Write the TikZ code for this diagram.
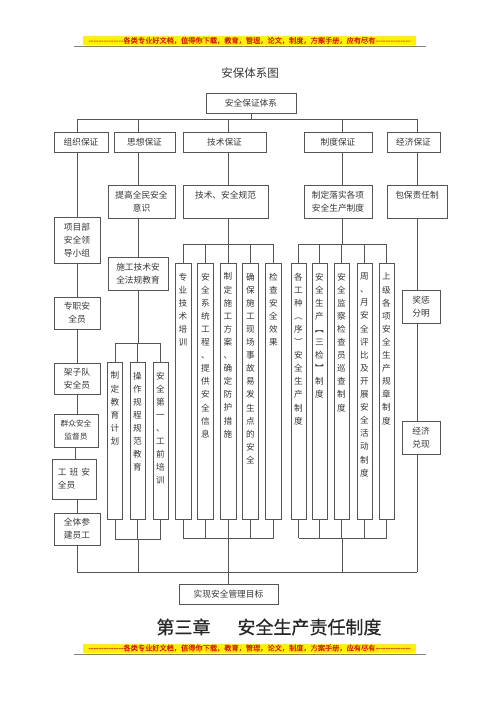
\documentclass[tikz,border=0pt]{standalone}
\usepackage{fontspec}
\setmainfont{Noto Sans CJK SC}
\newfontfamily\hei[FakeBold=0.5]{Noto Sans CJK SC}
\newfontfamily\bannerfont[FakeBold=0.3]{Noto Sans CJK SC}
\makeatletter
\newcommand\vtxt[1]{\vbox{\baselineskip=13.1pt\lineskiplimit=-20pt\@tfor\vtch:=#1\do{\hbox to 10pt{\hss\vtch\hss\vrule height 0.8em depth 0.2em width 0pt}}}}
\makeatother
\newcommand\dsh{-{}-{}-{}-{}-{}-{}-{}-{}-{}-{}-{}-{}-{}-{}}
\definecolor{lncol}{RGB}{85,85,85}
\definecolor{txcol}{RGB}{55,55,55}
\tikzset{
  ln/.style={draw=lncol, line width=0.8pt},
  bx/.style={draw=lncol, line width=0.8pt, inner sep=0pt, text=txcol, font=\fontsize{8.7}{13}\selectfont, align=center},
  vt/.style={inner sep=0pt, text=txcol, font=\fontsize{8.6}{13}\selectfont},
  txt/.style={inner sep=0pt, text=txcol, font=\fontsize{8.7}{13}\selectfont},
  banner/.style={fill=yellow, inner sep=0pt, minimum width=333pt, minimum height=9pt, text={rgb,255:red,220;green,20;blue,0}, font=\bannerfont\fontsize{7.2}{8}\selectfont},
}
\newcommand\Bx[7][]{\node[bx,minimum width={(#5-#3)*1pt},minimum height={(#6-#4)*1pt},#1] (#2) at ({(#3+#5)/2},{(#4+#6)/2}) {#7};}
\newcommand\Col[6]{\node[bx,minimum width=#3pt,minimum height={(#5-#4)*1pt}] (#1) at (#2,{(#4+#5)/2}) {};
  \node[vt,anchor=north] (#1t) at ([yshift=-10pt]#1.north) {\vtxt{#6}};}
\begin{document}
\begin{tikzpicture}[x=1pt,y=-1pt]
\useasboundingbox (0,0) rectangle (500,707);
\fill[white] (0,0) rectangle (500,707);
% banners
\node[banner] (bannerT) at (249.5,40.5) {\dsh 各类专业好文档，值得你下载，教育，管理，论文，制度，方案手册，应有尽有\dsh};
\draw[draw=gray, line width=0.8pt] (74,46.5) -- (426,46.5);
\node[banner] (bannerB) at (249.5,648) {\dsh 各类专业好文档，值得你下载，教育，管理，论文，制度，方案手册，应有尽有\dsh};
\draw[draw=gray, line width=0.8pt] (74,654) -- (426,654);
% title
\node[inner sep=0pt, text=txcol, font=\fontsize{11.5}{13}\selectfont] (title) at (250,73) {安保体系图};
% top
\Bx{top}{206}{93}{296}{113}{安全保证体系}
% level 2
\Bx{l2a}{54}{132}{108}{152}{组织保证}
\Bx{l2b}{114}{132}{175}{152}{思想保证}
\Bx{l2c}{183}{132}{266}{152}{技术保证}
\Bx{l2d}{304}{132}{372}{152}{制度保证}
\Bx{l2e}{387}{132}{440}{152}{经济保证}
% level 3
\Bx{l3b}{108}{185}{175}{218}{提高全民安全\\意识}
\Bx{l3c}{183}{185}{268}{218}{}
\Bx{l3d}{304}{185}{372}{218}{制定落实各项\\安全生产制度}
\Bx{l3e}{387}{185}{447}{218}{}
\coordinate (y195) at (0,195);
\node[txt] (l3ct) at (l3c.north |- y195) {技术、安全规范};
\node[txt] (l3et) at (l3e.north |- y195) {包保责任制};
% left chain
\Bx{n1}{54}{217}{100}{263}{项目部\\安全领\\导小组}
\Bx{n2}{54}{297}{100}{329}{专职安\\全员}
\Bx{n3}{54}{363}{100}{394}{架子队\\安全员}
\Bx[font=\fontsize{7.7}{13}\selectfont]{n4}{54}{414}{98}{447}{群众安全\\监督员}
\Bx[align=left]{n5}{52}{459}{96}{499}{工\hspace{3pt}班\hspace{3pt}安\\全员}
\Bx{n6}{54}{513}{100}{545}{全体参\\建员工}
% thought column
\Bx{sf}{108}{257}{168}{290}{施工技术安\\全法规教育}
\Col{c1}{115}{15}{362}{519}{制定教育计划}
\Col{c2}{137.5}{15}{362}{519}{操作规程规范教育}
\Col{c3}{160.5}{15}{362}{519}{安全第一、工前培训}
% technical columns
\Col{t1}{183}{16}{263}{519}{专业技术培训}
\Col{t2}{205.5}{16}{263}{519}{安全系统工程、提供安全信息}
\Col{t3}{228}{16}{263}{519}{制定施工方案、确定防护措施}
\Col{t4}{250.5}{16}{263}{519}{确保施工现场事故易发生点的安全}
\Col{t5}{273.5}{16}{263}{519}{检查安全效果}
% institutional columns
\Col{z1}{298.5}{15}{263}{519}{各工种︵序︶安全生产制度}
\Col{z2}{319.5}{15}{263}{519}{安全生产︻三检︼制度}
\Col{z3}{341.5}{15}{263}{519}{安全监察检查员巡查制度}
\Col{z4}{364.5}{15}{263}{519}{周、月安全评比及开展安全活动制度}
\Col{z5}{386.5}{15}{263}{519}{上级各项安全生产规章制度}
% economic
\Bx{e1}{402}{290}{440}{323}{奖惩\\分明}
\Bx{e2}{402}{421}{440}{454}{经济\\兑现}
% goal
\Bx{goal}{179}{584}{278}{604}{实现安全管理目标}
% heading
\node[inner sep=0pt, text=black!85, font=\hei\fontsize{18}{20}\selectfont] (chap) at (269,627) {第三章\hspace{27pt}安全生产责任制度};
% coordinates
\coordinate (xA) at (77,0);
\coordinate (xA2) at (75,0);
\coordinate (xB) at (138,0);
\coordinate (xT) at (228,0);
\coordinate (xZ) at (342,0);
\coordinate (xE) at (417,0);
\coordinate (busT) at (0,119);
\coordinate (busS1) at (0,343);
\coordinate (busS2) at (0,539);
\coordinate (busK1) at (0,244);
\coordinate (busK2) at (0,538);
\coordinate (busB) at (0,572);
% top connectors
\draw[ln] (top.south) -- (top.south |- busT);
\draw[ln] (xA |- busT) -- (xE |- busT);
\foreach \n/\c in {l2a/xA,l2b/xB,l2c/xT,l2d/xZ,l2e/xE} \draw[ln] (\c |- busT) -- (\n.north -| \c);
% left chain
\draw[ln] (l2a.south -| xA) -- (n1.north -| xA);
\draw[ln] (n1.south -| xA) -- (n2.north -| xA);
\draw[ln] (n2.south -| xA) -- (n3.north -| xA);
\draw[ln] (n3.south -| xA) -- (n4.north -| xA);
\draw[ln] (n4.south -| xA2) -- (n5.north -| xA2);
\draw[ln] (n5.south -| xA) -- (n6.north -| xA);
\draw[ln] (n6.south -| xA) -- (xA |- busB) -- (xE |- busB);
% thought
\draw[ln] (l2b.south -| xB) -- (l3b.north -| xB);
\draw[ln] (l3b.south -| xB) -- (sf.north -| xB);
\draw[ln] (sf.south -| xB) -- (xB |- busS1);
\draw[ln] (c1.north |- busS1) -- (c3.north |- busS1);
\draw[ln] (c1.south |- busS2) -- (c3.south |- busS2);
\foreach \n in {c1,c2,c3} {\draw[ln] (\n.north |- busS1) -- (\n.north); \draw[ln] (\n.south) -- (\n.south |- busS2);}
\draw[ln] (xB |- busS2) -- (xB |- busB);
% technical
\draw[ln] (l2c.south -| xT) -- (l3c.north -| xT);
\draw[ln] (l3c.south -| xT) -- (xT |- busK1);
\draw[ln] (t1.north |- busK1) -- (t5.north |- busK1);
\draw[ln] (t1.south |- busK2) -- (t5.south |- busK2);
\foreach \n in {t1,t2,t3,t4,t5} {\draw[ln] (\n.north |- busK1) -- (\n.north); \draw[ln] (\n.south) -- (\n.south |- busK2);}
\draw[ln] (xT |- busK2) -- (goal.north -| xT);
% institutional
\draw[ln] (l2d.south -| xZ) -- (l3d.north -| xZ);
\draw[ln] (l3d.south -| xZ) -- (xZ |- busK1);
\draw[ln] (z1.north |- busK1) -- (z5.north |- busK1);
\draw[ln] (z1.south |- busK2) -- (z5.south |- busK2);
\foreach \n in {z1,z2,z3,z4,z5} {\draw[ln] (\n.north |- busK1) -- (\n.north); \draw[ln] (\n.south) -- (\n.south |- busK2);}
\draw[ln] (xZ |- busK2) -- (xZ |- busB);
% economic
\draw[ln] (l2e.south -| xE) -- (l3e.north -| xE);
\draw[ln] (l3e.south -| xE) -- (e1.north -| xE);
\draw[ln] (e1.south -| xE) -- (e2.north -| xE);
\draw[ln] (e2.south -| xE) -- (xE |- busB);
\end{tikzpicture}
\end{document}
